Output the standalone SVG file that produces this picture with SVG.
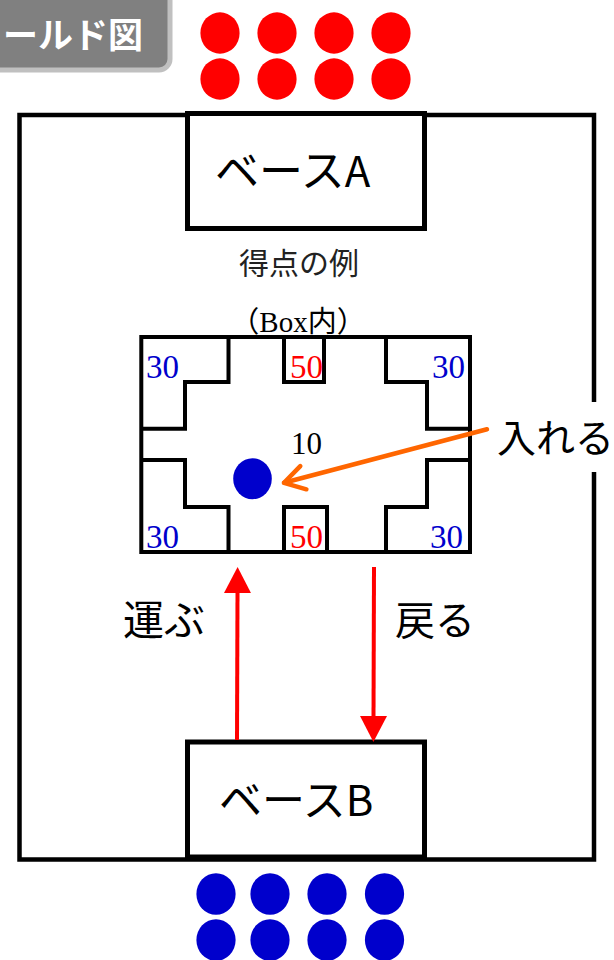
<svg xmlns="http://www.w3.org/2000/svg" width="614" height="960" viewBox="0 0 614 960">
<style>
.blk{fill:none;stroke:#000;stroke-width:4.5}
.wall{fill:none;stroke:#000;stroke-width:4;stroke-linejoin:miter}
.jp{font-family:"Noto Sans CJK JP","Noto Sans",sans-serif;fill:#000}
.num{font-family:"Liberation Serif","Times New Roman",serif;font-size:33px}
.red{fill:#ff0000}
.blue{fill:#0000cc}
.arrowR{stroke:#ff0000;stroke-width:4;fill:none}
.arrowO{stroke:#ff6600;stroke-width:4.5;fill:none;stroke-linecap:round}
</style>
<defs>
<marker id="tri" viewBox="0 0 26 27" markerWidth="26" markerHeight="27" refX="0" refY="13.5" orient="auto" markerUnits="userSpaceOnUse">
<path d="M0,0 L26,13.5 L0,27 z" fill="#ff0000"/>
</marker>
<marker id="chev" viewBox="-26 -16 30 32" markerWidth="30" markerHeight="32" refX="0" refY="0" orient="auto" markerUnits="userSpaceOnUse">
<path d="M-20,-12 L0,0 L-20,12" fill="none" stroke="#ff6600" stroke-width="4.5" stroke-linecap="round" stroke-linejoin="round"/>
</marker>
</defs>
<rect width="614" height="960" fill="#fff"/>

<g id="header">
<rect x="-20" y="-20" width="190" height="90" rx="11" fill="#808080" stroke="#c0c0c0" stroke-width="5"/>
<text x="143" y="48" text-anchor="end" class="jp" style="font-size:35px;font-weight:bold;fill:#fff">ールド図</text>
</g>

<g id="ballsRed">
<ellipse cx="220" cy="33" rx="19.6" ry="20.7" fill="#ff0000"/>
<ellipse cx="277" cy="33" rx="19.6" ry="20.7" fill="#ff0000"/>
<ellipse cx="334" cy="33" rx="19.6" ry="20.7" fill="#ff0000"/>
<ellipse cx="391" cy="33" rx="19.6" ry="20.7" fill="#ff0000"/>
<ellipse cx="220" cy="79" rx="19.6" ry="20.7" fill="#ff0000"/>
<ellipse cx="277" cy="79" rx="19.6" ry="20.7" fill="#ff0000"/>
<ellipse cx="334" cy="79" rx="19.6" ry="20.7" fill="#ff0000"/>
<ellipse cx="391" cy="79" rx="19.6" ry="20.7" fill="#ff0000"/>
</g>

<g id="field">
<rect x="19.5" y="115" width="574.5" height="744.5" class="blk"/>
</g>

<g id="baseA">
<rect x="187.5" y="113.5" width="237" height="115" fill="#fff" stroke="#000" stroke-width="5"/>
<text x="215" y="187" class="jp" style="font-size:44px">ベース<tspan style="font-size:42px">A</tspan></text>
</g>

<g id="scoreLabel">
<text x="299" y="274" text-anchor="middle" class="jp" style="font-size:30px;fill:#222">得点の例</text>
<text x="298" y="332" text-anchor="middle" style="font-family:'Liberation Serif','Noto Sans CJK JP',serif;font-size:29px;fill:#000">（Box内）</text>
</g>

<g id="box">
<rect x="141.3" y="337" width="328.7" height="215" class="wall"/>
<polyline points="228.5,337 228.5,382 185,382 185,428.7 141.3,428.7" class="wall"/>
<polyline points="141.3,460 185,460 185,507 228.5,507 228.5,552" class="wall"/>
<polyline points="284,337 284,382 324,382 324,337" class="wall"/>
<polyline points="284,552 284,507 327,507 327,552" class="wall"/>
<polyline points="386,337 386,382 427,382 427,428.7 470,428.7" class="wall"/>
<polyline points="470,460 427,460 427,507 386,507 386,552" class="wall"/>
<text x="146" y="378" class="num blue">30</text>
<text x="290" y="378" class="num red">50</text>
<text x="432" y="378" class="num blue">30</text>
<text x="146" y="548" class="num blue">30</text>
<text x="290" y="548" class="num red">50</text>
<text x="430" y="548" class="num blue">30</text>
<text x="291" y="454" class="num" style="font-size:31px;fill:#000">10</text>
<ellipse cx="252.5" cy="478.7" rx="19.3" ry="20.5" fill="#0000cc"/>
</g>

<g id="insertLabel">
<rect x="496" y="402" width="118" height="70" fill="#fff"/>
<text x="497" y="452" class="jp" style="font-size:39px">入れる</text>
</g>

<g id="baseB">
<rect x="187.5" y="742" width="237" height="115" fill="#fff" stroke="#000" stroke-width="5"/>
<text x="219" y="816" class="jp" style="font-size:43px">ベース<tspan style="font-size:42px">B</tspan></text>
</g>

<g id="ballsBlue">
<ellipse cx="216" cy="894" rx="19.6" ry="20.8" fill="#0000cc"/>
<ellipse cx="270" cy="894" rx="19.6" ry="20.8" fill="#0000cc"/>
<ellipse cx="327" cy="894" rx="19.6" ry="20.8" fill="#0000cc"/>
<ellipse cx="384.5" cy="894" rx="19.6" ry="20.8" fill="#0000cc"/>
<ellipse cx="216" cy="940" rx="19.6" ry="20.8" fill="#0000cc"/>
<ellipse cx="270" cy="940" rx="19.6" ry="20.8" fill="#0000cc"/>
<ellipse cx="327" cy="940" rx="19.6" ry="20.8" fill="#0000cc"/>
<ellipse cx="384.5" cy="940" rx="19.6" ry="20.8" fill="#0000cc"/>
</g>

<g id="arrowLabels">
<text x="123" y="635" class="jp" style="font-size:41px">運ぶ</text>
<text x="395" y="635" class="jp" style="font-size:40px">戻る</text>
</g>

<g id="connectors">
<line x1="237" y1="740" x2="237.5" y2="593" class="arrowR" marker-end="url(#tri)"/>
<line x1="374" y1="567" x2="373.5" y2="716" class="arrowR" marker-end="url(#tri)"/>
<line x1="487" y1="429.3" x2="284" y2="482.8" class="arrowO" marker-end="url(#chev)"/>
</g>
</svg>
